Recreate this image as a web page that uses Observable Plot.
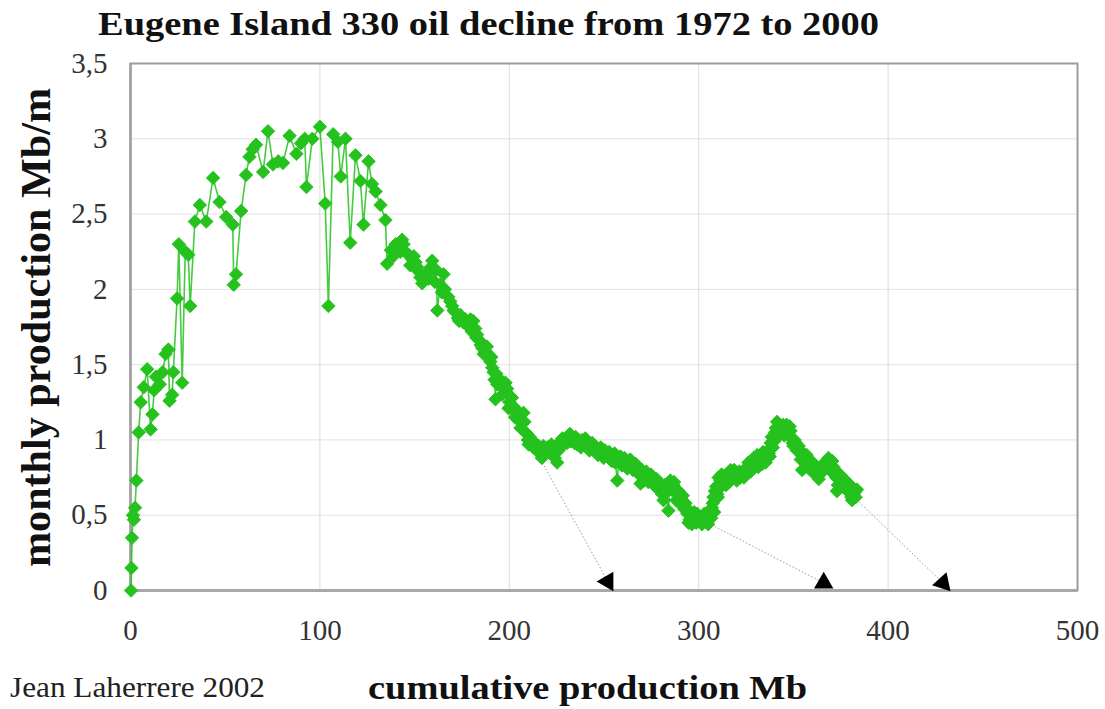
<!DOCTYPE html>
<html>
<head>
<meta charset="utf-8">
<script src="https://cdn.jsdelivr.net/npm/d3@7"></script>
<script src="https://cdn.jsdelivr.net/npm/@observablehq/plot@0.6"></script>
<style>
  html, body { margin: 0; padding: 0; background: #fff; }
  #chart { width: 1105px; height: 709px; overflow: hidden; }
</style>
</head>
<body>
<div id="chart"></div>
<script>
// ---- Data ----
const cumProd = [
  0.3, 0.5, 0.8, 1.3, 1.8, 2.4, 3.1, 4.3, 5.4, 7.0,
  8.8, 10.6, 11.6, 12.5, 13.4, 15.5, 17.0, 18.5, 20.0, 20.6,
  22.0, 22.6, 24.6, 25.5, 27.3, 28.9, 30.5, 31.5, 34.0, 36.6,
  40.0, 43.6, 47.0, 50.5, 54.0, 54.5, 55.7, 58.4, 61.0, 62.8,
  64.5, 66.3, 70.0, 72.6, 75.2, 78.0, 80.5, 84.0, 87.6, 90.0,
  92.0, 92.9, 96.0, 100.0, 102.8, 104.5, 107.0, 109.5, 111.0, 113.5,
  116.0, 118.8, 121.4, 123.0, 125.7, 127.5, 129.4, 132.0, 134.6, 135.5,
  137.5, 140.0, 141.8, 143.4, 145.0, 146.8, 148.7, 150.5, 152.0, 153.0,
  155.0, 156.6, 158.0, 159.3, 160.6, 162.0, 163.5, 165.3, 166.0, 167.8,
  169.8, 171.5, 172.8, 174.2, 175.8, 177.8, 179.5, 181.0, 182.0, 183.0,
  184.3, 185.7, 187.4, 189.0, 190.0, 191.0, 191.7, 192.7, 193.6, 194.5,
  195.4, 197.0, 198.9, 199.6, 200.5, 202.3, 203.0, 204.5, 205.0, 206.8,
  207.5, 208.5, 209.4, 210.2, 211.5, 212.8, 214.5, 216.5, 218.0, 220.0,
  221.5, 223.0, 225.3, 226.0, 227.0, 228.5, 229.8, 231.4, 232.6, 233.8,
  235.0, 235.8, 237.0, 238.5, 240.2, 241.5, 243.0, 244.5, 246.0, 247.5,
  249.0, 250.5, 252.0, 253.4, 255.0, 256.0, 257.0, 258.7, 260.0, 261.5,
  263.0, 264.5, 266.0, 267.5, 268.5, 269.3, 270.5, 271.7, 272.8, 274.0,
  275.5, 277.2, 278.5, 279.5, 280.7, 282.0, 283.0, 284.0, 285.0, 286.5,
  287.6, 288.6, 290.0, 291.2, 292.0, 293.0, 294.0, 294.6, 295.8, 297.0,
  298.2, 299.2, 300.3, 301.0, 302.5, 303.5, 304.5, 305.4, 306.2, 307.0,
  307.8, 308.6, 309.8, 310.5, 311.5, 312.7, 313.8, 315.0, 316.8, 318.0,
  319.5, 320.8, 322.0, 323.3, 324.5, 325.6, 327.0, 328.0, 329.0, 330.3,
  331.5, 333.5, 334.7, 336.0, 337.0, 338.0, 339.2, 340.3, 341.4, 342.2,
  343.0, 344.5, 345.8, 347.0, 348.5, 349.2, 350.0, 351.2, 352.3, 353.3,
  354.6, 355.3, 356.5, 357.6, 358.8, 360.0, 361.2, 362.3, 363.4, 364.6,
  366.0, 367.3, 368.5, 369.8, 371.2, 372.2, 373.0, 374.0, 375.2, 376.3,
  377.4, 378.4, 379.5, 380.3, 381.0, 382.2, 383.6
];
const monthlyProd = [
  0.00, 0.15, 0.35, 0.50, 0.47, 0.55, 0.73, 1.05, 1.25, 1.35,
  1.47, 1.07, 1.17, 1.33, 1.42, 1.37, 1.45, 1.57, 1.60, 1.26,
  1.30, 1.45, 1.94, 2.30, 1.38, 2.25, 2.23, 1.89, 2.45, 2.56,
  2.45, 2.74, 2.58, 2.48, 2.43, 2.03, 2.10, 2.52, 2.76, 2.88,
  2.93, 2.96, 2.78, 3.05, 2.83, 2.85, 2.84, 3.02, 2.90, 2.97,
  3.00, 2.68, 3.00, 3.08, 2.57, 1.89, 3.03, 2.98, 2.75, 3.00,
  2.31, 2.89, 2.72, 2.43, 2.85, 2.70, 2.65, 2.56, 2.46, 2.17,
  2.26, 2.30, 2.28, 2.33, 2.25, 2.23, 2.20, 2.18, 2.12, 2.08,
  2.06, 2.10, 2.14, 2.19, 2.05, 1.86, 2.03, 2.10, 2.00, 1.95,
  1.89, 1.85, 1.81, 1.83, 1.78, 1.77, 1.80, 1.79, 1.74, 1.70,
  1.66, 1.61, 1.59, 1.57, 1.52, 1.48, 1.45, 1.27, 1.37, 1.41,
  1.36, 1.36, 1.34, 1.21, 1.29, 1.22, 1.15, 1.19, 1.13, 1.11,
  1.18, 1.05, 1.04, 0.97, 1.00, 0.95, 0.93, 0.91, 0.96, 0.95,
  0.92, 0.90, 0.85, 0.93, 0.99, 0.97, 1.00, 1.03, 0.99, 1.01,
  1.02, 0.97, 0.99, 1.00, 1.01, 0.96, 0.97, 0.95, 0.93, 0.94,
  0.91, 0.93, 0.89, 0.87, 0.90, 0.85, 0.73, 0.89, 0.86, 0.83,
  0.84, 0.86, 0.82, 0.81, 0.77, 0.71, 0.79, 0.76, 0.77, 0.74,
  0.75, 0.71, 0.69, 0.66, 0.64, 0.70, 0.68, 0.53, 0.73, 0.70,
  0.67, 0.64, 0.62, 0.60, 0.58, 0.58, 0.51, 0.45, 0.49, 0.50,
  0.48, 0.51, 0.47, 0.48, 0.46, 0.49, 0.46, 0.50, 0.51, 0.55,
  0.62, 0.66, 0.64, 0.75, 0.73, 0.70, 0.76, 0.73, 0.80, 0.76,
  0.78, 0.74, 0.75, 0.79, 0.78, 0.82, 0.80, 0.84, 0.88, 0.85,
  0.82, 0.84, 0.87, 0.89, 0.91, 0.98, 0.95, 1.05, 1.12, 1.08,
  1.04, 1.10, 1.06, 1.08, 1.06, 1.01, 0.96, 0.98, 0.94, 0.92,
  0.80, 0.91, 0.88, 0.86, 0.84, 0.82, 0.80, 0.77, 0.74, 0.79,
  0.84, 0.86, 0.88, 0.85, 0.82, 0.78, 0.66, 0.74, 0.73, 0.70,
  0.72, 0.71, 0.67, 0.64, 0.60, 0.65, 0.67
];
// Further monthly points in the dense decline/tail band
const cumProdMore = [
  138.8, 142.5, 144.2, 147.7, 149.6, 151.2, 154.0, 157.3, 161.3, 164.4,
  168.8, 170.6, 173.5, 176.8, 178.6, 180.2, 182.5, 184.9, 186.5, 188.2,
  190.5, 192.2, 193.1, 196.2, 198.0, 200.1, 201.4, 203.7, 205.9, 208.0,
  209.8, 210.8, 213.6, 215.5, 217.2, 219.0, 222.2, 224.0, 226.5, 228.0,
  230.5, 232.0, 234.4, 236.4, 237.8, 239.4, 240.8, 242.3, 243.8, 245.3,
  246.8, 248.3, 249.8, 251.3, 252.7, 254.2, 255.6, 257.8, 259.4, 260.8,
  262.3, 263.8, 265.3, 266.8, 268.0, 270.0, 271.2, 272.3, 273.4, 274.8,
  276.3, 277.8, 279.0, 280.2, 281.4, 282.5, 285.6, 287.0, 288.1, 289.4,
  290.6, 291.6, 292.5, 293.5, 295.2, 296.4, 297.6, 298.7, 299.8, 301.7,
  303.0, 304.0, 305.0, 306.6, 307.4, 308.2, 309.2, 310.1, 311.0, 312.1,
  313.3, 314.4, 315.6, 316.2, 317.4, 318.7, 320.1, 321.4, 322.6, 323.9,
  325.0, 326.3, 327.5, 328.5, 329.6, 330.9, 332.5, 334.0, 335.3, 336.5,
  337.5, 338.6, 339.8, 340.8, 341.8, 342.6, 343.7, 345.2, 346.4, 347.7,
  348.0, 349.6, 350.6, 351.8, 352.8, 353.9, 355.9, 357.0, 358.2, 359.4,
  360.6, 361.8, 362.9, 364.0, 365.3, 366.6, 367.9, 369.2, 370.5, 371.7,
  372.6, 373.5, 374.6, 375.8, 376.9, 377.9, 378.9, 380.0, 380.6, 381.6,
  382.9
];
const monthlyProdMore = [
  2.22, 2.25, 2.30, 2.16, 2.22, 2.15, 2.04, 2.07, 2.13, 1.98,
  1.92, 1.86, 1.79, 1.80, 1.75, 1.72, 1.68, 1.63, 1.57, 1.62,
  1.55, 1.40, 1.44, 1.30, 1.38, 1.25, 1.28, 1.18, 1.08, 1.12,
  1.00, 1.02, 0.98, 0.96, 0.88, 0.93, 0.97, 0.88, 0.95, 1.01,
  0.98, 1.04, 0.98, 1.00, 0.95, 0.97, 0.98, 0.93, 0.98, 0.96,
  0.90, 0.95, 0.88, 0.90, 0.92, 0.86, 0.91, 0.86, 0.83, 0.88,
  0.81, 0.87, 0.80, 0.84, 0.78, 0.80, 0.73, 0.79, 0.72, 0.77,
  0.70, 0.74, 0.71, 0.68, 0.60, 0.65, 0.67, 0.72, 0.60, 0.66,
  0.57, 0.63, 0.54, 0.55, 0.47, 0.44, 0.52, 0.45, 0.49, 0.44,
  0.51, 0.47, 0.44, 0.48, 0.58, 0.52, 0.69, 0.62, 0.68, 0.77,
  0.72, 0.70, 0.77, 0.72, 0.75, 0.80, 0.73, 0.79, 0.77, 0.75,
  0.80, 0.85, 0.79, 0.82, 0.86, 0.90, 0.87, 0.92, 0.85, 0.93,
  0.89, 1.02, 0.99, 1.08, 1.02, 1.10, 1.07, 1.03, 1.10, 1.03,
  1.09, 0.98, 1.00, 0.93, 0.96, 0.87, 0.85, 0.90, 0.81, 0.86,
  0.78, 0.83, 0.81, 0.77, 0.82, 0.81, 0.83, 0.80, 0.86, 0.77,
  0.75, 0.70, 0.77, 0.69, 0.74, 0.67, 0.69, 0.70, 0.62, 0.63,
  0.62
];

// Dotted pointer lines ending in black arrowheads on the x axis
const arrowStartX = [213, 297, 382];
const arrowStartY = [0.95, 0.50, 0.62];
const arrowEndX   = [252, 366, 429];
const arrowEndY   = [0.06, 0.05, 0.05];
const arrowHeadRotate = [-90, 0, 18];

const xTicks = [0, 100, 200, 300, 400, 500];
const yTicks = [0, 0.5, 1, 1.5, 2, 2.5, 3, 3.5];

const titleText = "Eugene Island 330 oil decline from 1972 to 2000";
const xLabel = "cumulative production Mb";
const yLabel = "monthly production Mb/m";
const creditText = "Jean Laherrere 2002";

// ---- Build tables ----
const series = cumProd.map((x, i) => ({x, y: monthlyProd[i]}))
  .concat(cumProdMore.map((x, i) => ({x, y: monthlyProdMore[i]})))
  .sort((a, b) => a.x - b.x);
const arrows = arrowStartX.map((x1, i) => ({
  x1, y1: arrowStartY[i], x2: arrowEndX[i], y2: arrowEndY[i], rot: arrowHeadRotate[i]
}));

const green = "#25c21d";
const serif = "'Liberation Serif', 'Times New Roman', Times, serif";

const chart = Plot.plot({
  width: 1105,
  height: 709,
  marginLeft: 130,
  marginRight: 28,
  marginTop: 63,
  marginBottom: 119,
  x: {domain: [0, 500]},
  y: {domain: [0, 3.5]},
  style: {fontFamily: serif, fontSize: "29px", color: "#333", background: "#fff"},
  marks: [
    Plot.gridX(xTicks, {stroke: "#dcdcdc", strokeOpacity: 1, strokeWidth: 1}),
    Plot.gridY(yTicks, {stroke: "#e2e2e2", strokeOpacity: 1, strokeWidth: 1}),
    Plot.frame({stroke: "#9c9c9c", strokeWidth: 2}),
    Plot.ruleX([0], {stroke: "#a0a0a0", strokeWidth: 2.5}),
    Plot.ruleY([0], {stroke: "#a8a8a8", strokeWidth: 3}),
    Plot.axisX(xTicks, {tickSize: 0, tickPadding: 29, label: null, fill: "#333"}),
    Plot.axisY(yTicks, {tickSize: 0, tickPadding: 23, label: null, fill: "#333",
      tickFormat: d => String(d).replace(".", ",")}),
    Plot.link(arrows, {x1: "x1", y1: "y1", x2: "x2", y2: "y2",
      stroke: "#9a9a9a", strokeWidth: 1, strokeDasharray: "1.5,2"}),
    Plot.dot(arrows, {x: "x2", y: "y2", symbol: "triangle", rotate: "rot",
      r: 7.2, fill: "#000", stroke: "none"}),
    Plot.line(series, {x: "x", y: "y", stroke: green, strokeWidth: 1.6, strokeOpacity: 0.85}),
    Plot.dot(series, {x: "x", y: "y", symbol: "square", rotate: 45, r: 5.4,
      fill: green, stroke: green, strokeWidth: 0.8})
  ]
});

document.getElementById("chart").appendChild(chart);

// ---- Titles & labels as real SVG text ----
const svg = d3.select(chart);
svg.append("text")
  .attr("x", 98).attr("y", 35)
  .attr("text-anchor", "start")
  .attr("font-family", serif).attr("font-weight", "bold").attr("font-size", 33)
  .attr("fill", "#111")
  .attr("textLength", 781).attr("lengthAdjust", "spacingAndGlyphs")
  .text(titleText);

svg.append("text")
  .attr("transform", "translate(50,567) rotate(-90)")
  .attr("text-anchor", "start")
  .attr("font-family", serif).attr("font-weight", "bold").attr("font-size", 42)
  .attr("fill", "#111")
  .attr("textLength", 479).attr("lengthAdjust", "spacingAndGlyphs")
  .text(yLabel);

svg.append("text")
  .attr("x", 368).attr("y", 699)
  .attr("text-anchor", "start")
  .attr("font-family", serif).attr("font-weight", "bold").attr("font-size", 34)
  .attr("fill", "#111")
  .attr("textLength", 439).attr("lengthAdjust", "spacingAndGlyphs")
  .text(xLabel);

svg.append("text")
  .attr("x", 10).attr("y", 697)
  .attr("text-anchor", "start")
  .attr("font-family", serif).attr("font-size", 30)
  .attr("fill", "#222")
  .attr("textLength", 255).attr("lengthAdjust", "spacingAndGlyphs")
  .text(creditText);
</script>
</body>
</html>
